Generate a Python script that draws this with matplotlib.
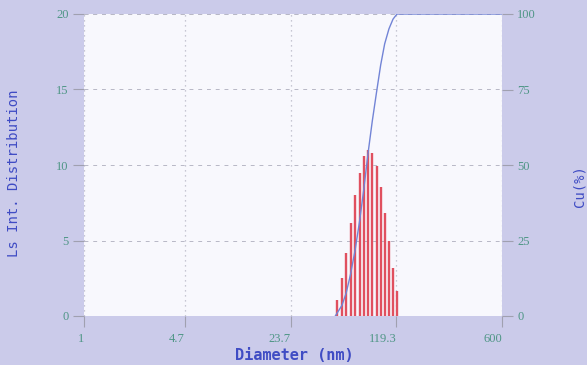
import matplotlib
matplotlib.use("Agg")
from matplotlib import pyplot as plt
from matplotlib.ticker import FixedLocator, NullLocator

# bar positions (nm) and Ls intensity distribution (%)
diam = [48.3, 51.9, 55.4, 59.2, 63.5, 68.0, 72.6, 77.1, 82.4, 88.2,
        93.7, 99.6, 106.4, 113.2, 120.3]
dist = [1.06, 2.49, 4.19, 6.14, 8.01, 9.49, 10.6, 10.99, 10.77, 9.93,
        8.54, 6.84, 4.97, 3.20, 1.66]

# cumulative curve (%)
cu_x = [46.8, 48.3, 51.9, 55.4, 59.2, 63.5, 68.0, 72.6, 77.1, 82.4, 88.2,
        93.7, 99.6, 106.4, 113.2, 120.3, 600]
cu = [0, 1.1, 3.6, 7.8, 14.0, 22.1, 31.7, 42.5, 53.6, 64.5, 74.5,
      83.1, 90.1, 95.1, 98.3, 100, 100]

xticks = [1, 4.7, 23.7, 119.3, 600]
xlabels = ["1", "4.7", "23.7", "119.3", "600"]
lticks = [0, 5, 10, 15, 20]
rticks = [0, 25, 50, 75, 100]

bg = '#cbcbea'
tick_col = '#4f9686'
lab_col = '#3f4cc4'
grid_col = '#b8b8c6'

fig = plt.figure(figsize=(5.87, 3.65), dpi=100, facecolor=bg)
ax = fig.add_axes([84 / 587, 1 - 316 / 365, 418 / 587, 302 / 365])
ax.set_facecolor('#f8f8fd')
ax.set_xscale('log')
ax.set_xlim(1, 600)
ax.set_ylim(0, 20)

ax.vlines(diam, 0, dist, colors='#e0505f', lw=1.7, zorder=3)

ax.xaxis.set_major_locator(FixedLocator(xticks))
ax.xaxis.set_minor_locator(NullLocator())
ax.set_xticklabels(xlabels, ha='right')
ax.set_yticks(lticks)

for s in ax.spines.values():
    s.set_visible(False)
ax.grid(axis='y', color=grid_col, ls=(0, (4, 5)), lw=0.7)
ax.grid(axis='x', color=grid_col, ls=(0, (1, 3)), lw=0.9)
ax.get_ygridlines()[0].set_visible(False)
ax.axhline(20, color=grid_col, ls=(0, (4, 5)), lw=0.7, clip_on=False)

ax.tick_params(axis='both', direction='out', length=8, width=0.8,
               color='#a0a0b0', labelcolor=tick_col, labelsize=9, pad=3)
ax.tick_params(axis='x', pad=4)
for t in ax.get_xticklabels() + ax.get_yticklabels():
    t.set_fontfamily('Liberation Serif')

ax2 = ax.twinx()
ax2.set_ylim(0, 100)
ax2.set_yticks(rticks)
ax2.plot(cu_x, cu, color='#7284d6', lw=1.0, zorder=4)
for s in ax2.spines.values():
    s.set_visible(False)
ax2.tick_params(axis='y', direction='out', length=8, width=0.8,
                color='#a0a0b0', labelcolor=tick_col, labelsize=9, pad=3)
for t in ax2.get_yticklabels():
    t.set_fontfamily('Liberation Serif')

fig.text(294 / 587, 1 - 355 / 365, "Diameter (nm)", color=lab_col,
         fontsize=11, fontweight='bold', family='DejaVu Sans Mono',
         ha='center', va='center')
fig.text(14 / 587, 1 - 173 / 365, "Ls Int. Distribution", color=lab_col,
         fontsize=10, family='DejaVu Sans Mono', rotation=90,
         ha='center', va='center')
fig.text(580 / 587, 1 - 186 / 365, "Cu(%)", color=lab_col,
         fontsize=10, family='DejaVu Sans Mono', rotation=90,
         ha='center', va='center')

fig.savefig('out.png', dpi=100, facecolor=bg)
